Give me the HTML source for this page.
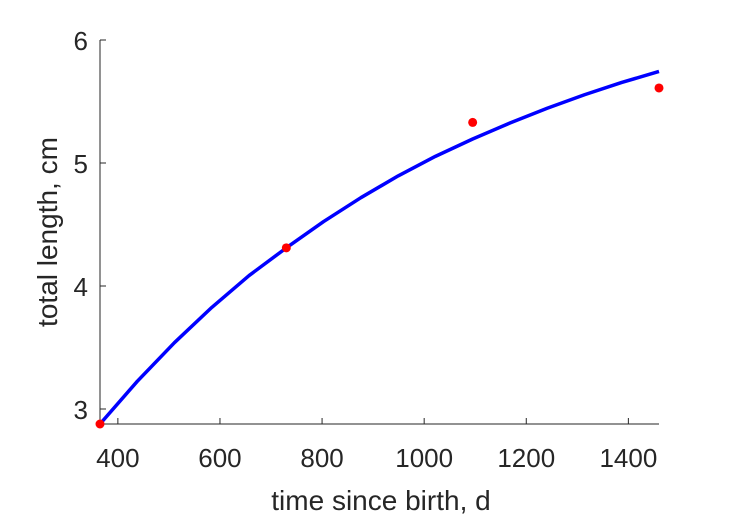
<!DOCTYPE html>
<html><head><meta charset="utf-8"><style>
body{margin:0;background:#fff}
svg text{font-family:"Liberation Sans",sans-serif;fill:#262626}
</style></head><body>
<svg width="729" height="521">
<g id="axes"></g>
<g id="marks"></g>
</svg>
<script>
const curveTimes=[365,438,511,584,657,730,803,876,949,1022,1095,1168,1241,1314,1387,1460];
const curveLengths=[2.878,3.225,3.540,3.826,4.085,4.310,4.524,4.718,4.895,5.054,5.195,5.325,5.445,5.555,5.655,5.744];
const obsTimes=[365,730,1095,1460];
const obsLengths=[2.878,4.31,5.33,5.61];
const xTicks=[400,600,800,1000,1200,1400];
const yTicks=[3,4,5,6];
const X0=100,X1=659,Y0=424,Y1=40,xmin=365,xmax=1460,ymin=2.878,ymax=6;
const sx=v=>X0+(v-xmin)/(xmax-xmin)*(X1-X0);
const sy=v=>Y0-(v-ymin)/(ymax-ymin)*(Y0-Y1);
const NS="http://www.w3.org/2000/svg";
const ax=document.getElementById('axes'),mk=document.getElementById('marks');
function el(t,a,p){const e=document.createElementNS(NS,t);for(const k in a)e.setAttribute(k,a[k]);p.appendChild(e);return e;}
let l=el('line',{x1:X0,y1:Y0,x2:X1,y2:Y0,stroke:'#262626','stroke-width':1},ax);


l=el('line',{x1:X0,y1:Y0,x2:X0,y2:Y1,stroke:'#262626','stroke-width':1},ax);


xTicks.forEach(v=>{
 const t=el('line',{x1:sx(v),y1:Y0,x2:sx(v),y2:Y0-6,stroke:'#262626'},ax);
 
 
 const tx=el('text',{x:sx(v),y:Y0+43,'text-anchor':'middle','font-size':26},ax);
 tx.textContent=v;
 
 
});
yTicks.forEach(v=>{
 const t=el('line',{x1:X0,y1:sy(v),x2:X0+6,y2:sy(v),stroke:'#262626'},ax);
 
 
 const tx=el('text',{x:X0-12,y:sy(v)+10,'text-anchor':'end','font-size':26},ax);
 tx.textContent=v;
 
 
});
let xl=el('text',{x:381,y:510,'text-anchor':'middle','font-size':28},ax);
xl.textContent='time since birth, d';


let yl=el('text',{x:0,y:0,'text-anchor':'middle','font-size':28,transform:'translate(57,232) rotate(-90)'},ax);
yl.textContent='total length, cm';


const pts=curveTimes.map((t,i)=>sx(t)+','+sy(curveLengths[i])).join(' ');
const pl=el('polyline',{points:pts,fill:'none',stroke:'#0000ff','stroke-width':3.5,'stroke-linejoin':'round'},mk);


obsTimes.forEach((t,i)=>{
 const c=el('circle',{cx:sx(t),cy:sy(obsLengths[i]),r:4.5,fill:'#ff0000'},mk);
 
 
});
</script>
</body></html>
